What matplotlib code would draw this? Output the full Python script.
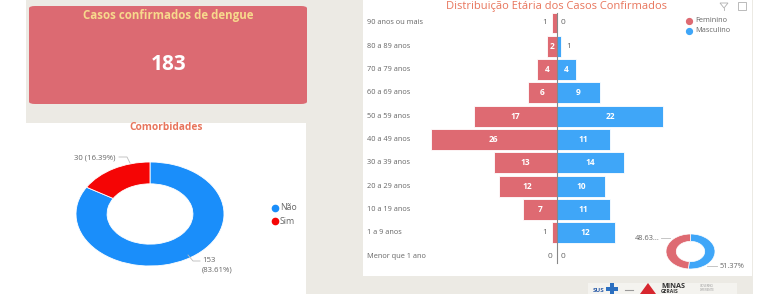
import matplotlib
matplotlib.use("Agg")
import matplotlib.pyplot as plt
from matplotlib.patches import FancyBboxPatch, Rectangle, Polygon
from matplotlib.lines import Line2D
import matplotlib.transforms as mtransforms

plt.rcParams['font.family'] = ['Open Sans', 'DejaVu Sans']

# ---- data ----
total_cases = 183
comorb_labels = ["Não", "Sim"]
comorb_values = [153, 30]
age_groups = ["90 anos ou mais", "80 a 89 anos", "70 a 79 anos", "60 a 69 anos",
              "50 a 59 anos", "40 a 49 anos", "30 a 39 anos", "20 a 29 anos",
              "10 a 19 anos", "1 a 9 anos", "Menor que 1 ano"]
feminino = [1, 2, 4, 6, 17, 26, 13, 12, 7, 1, 0]
masculino = [0, 1, 4, 9, 22, 11, 14, 10, 11, 12, 0]
sex_labels = ["Feminino", "Masculino"]

W, H = 775, 294
fig = plt.figure(figsize=(W / 100, H / 100), dpi=100)
fig.patch.set_facecolor("white")

def fx(x):
    return x / W

def fy(y):
    return 1 - y / H

def px_axes(x, y, w, h):
    return fig.add_axes([fx(x), fy(y + h), w / W, h / H])

def ftext(x, y, s, **kw):
    fig.text(fx(x), fy(y), s, **kw)

def fline(xs, ys, color="#bbbbbb", lw=0.6):
    fig.add_artist(Line2D([fx(v) for v in xs], [fy(v) for v in ys], color=color, lw=lw))

def frect(x0, y0, x1, y1, **kw):
    fig.add_artist(Rectangle((fx(x0), fy(y1)), fx(x1) - fx(x0), fy(y0) - fy(y1),
                             transform=fig.transFigure, **kw))

BEIGE = "#ECEAE4"
RED_CARD = "#DC6A72"
FEM = "#DE6A72"
MASC = "#3FA6F8"
BLUE = "#1A8EFA"
RED = "#F50505"
TITLE = "#E8755C"
GRAY = "#666666"

# backgrounds
frect(26, 0, 753, 294, facecolor=BEIGE, edgecolor="none", zorder=0)
frect(26, 123, 306, 294, facecolor="white", edgecolor="none", zorder=0)
frect(363, 0, 752, 276, facecolor="white", edgecolor="none", zorder=0)

# ---- KPI card ----
card = FancyBboxPatch((fx(29), fy(104)), fx(307) - fx(29), fy(6) - fy(104),
                      boxstyle="round,pad=0,rounding_size=0.008",
                      transform=fig.transFigure, facecolor=RED_CARD, edgecolor="none", zorder=1)
fig.add_artist(card)
ftext(168, 16, "Casos confirmados de dengue", ha="center", va="center",
      fontsize=8.3, fontweight="bold", color="#F7D98C")
ftext(169, 64, str(total_cases), ha="center", va="center",
      fontsize=15, fontweight="bold", color="white")

# ---- Comorbidades donut ----
ftext(166, 128, "Comorbidades", ha="center", va="center",
      fontsize=7.3, fontweight="bold", color=TITLE)
axd = px_axes(76, 162, 148, 104)
axd.pie(comorb_values, colors=[BLUE, RED], startangle=90, counterclock=False,
        wedgeprops=dict(width=0.42, edgecolor="white", linewidth=0.6))
axd.set_aspect("auto")
axd.set_xlim(-1, 1)
axd.set_ylim(-1, 1)
axd.axis("off")
pct = [v / sum(comorb_values) * 100 for v in comorb_values]
ftext(74, 158, f"{comorb_values[1]} ({pct[1]:.2f}%)", ha="left", va="center", fontsize=5.6, color=GRAY)
fline([119, 127, 130], [157, 157, 163])
ftext(202, 261, f"{comorb_values[0]}", ha="left", va="center", fontsize=5.6, color=GRAY)
ftext(202, 270, f"({pct[0]:.2f}%)", ha="left", va="center", fontsize=5.6, color=GRAY)
fline([188, 193, 200], [255, 261, 261])
for i, (lab, col) in enumerate(zip(comorb_labels, [BLUE, RED])):
    yy = 208 + i * 13
    fig.add_artist(Line2D([fx(275)], [fy(yy)], marker="o", markersize=4.5, color=col, lw=0))
    ftext(280, yy, lab, ha="left", va="center", fontsize=6.3, color=GRAY)

# ---- Butterfly chart ----
ftext(557, 6, "Distribuição Etária dos Casos Confirmados", ha="center", va="center",
      fontsize=8, color=TITLE)
# filter icon
fig.add_artist(Polygon([(fx(720), fy(3)), (fx(728), fy(3)), (fx(724), fy(8))], closed=True,
                       transform=fig.transFigure, facecolor="none", edgecolor="#b0b0b0", lw=0.6))
fline([724, 724], [8, 10], color="#b0b0b0", lw=0.6)
# expand icon
frect(738, 2, 746, 10, facecolor="none", edgecolor="#b0b0b0", lw=0.6)

axb = px_axes(363, 11.35, 389, 256.3)
axb.set_xlim(-40.0, 40.35)
axb.set_ylim(10.5, -0.5)
axb.axis("off")
ypos = list(range(len(age_groups)))
negf = [-v for v in feminino]
axb.barh(ypos, negf, height=0.9, color=FEM, edgecolor="white", linewidth=0.6)
axb.barh(ypos, masculino, height=0.9, color=MASC, edgecolor="white", linewidth=0.6)
axb.plot([0, 0], [-0.43, 10.3], color="#888888", lw=0.8)
trans = mtransforms.blended_transform_factory(axb.transAxes, axb.transData)
for y, lab in zip(ypos, age_groups):
    axb.text(0.0105, y, lab, transform=trans, ha="left", va="center", fontsize=5.3, color=GRAY)
for y, f, m in zip(ypos, feminino, masculino):
    if f >= 2:
        axb.text(-f / 2, y, str(f), ha="center", va="center", fontsize=6, color="white",
                 fontweight="bold")
    else:
        axb.text(-f - 0.9, y, str(f), ha="right", va="center", fontsize=6, color=GRAY)
    if m >= 2:
        axb.text(m / 2, y, str(m), ha="center", va="center", fontsize=6, color="white",
                 fontweight="bold")
    else:
        axb.text(m + 0.9, y, str(m), ha="left", va="center", fontsize=6, color=GRAY)

for i, (lab, col) in enumerate(zip(sex_labels, [FEM, MASC])):
    yy = 21 + i * 10
    fig.add_artist(Line2D([fx(689)], [fy(yy)], marker="o", markersize=4.2, color=col, lw=0))
    ftext(695, yy, lab, ha="left", va="center", fontsize=5.3, color=GRAY)

# small sex donut
sex_totals = [sum(feminino), sum(masculino)]
axs = px_axes(666, 234, 49, 35)
axs.pie(sex_totals[::-1], colors=[MASC, FEM], startangle=90, counterclock=False,
        wedgeprops=dict(width=0.42, edgecolor="white", linewidth=0.5))
axs.set_aspect("auto")
axs.set_xlim(-1, 1)
axs.set_ylim(-1, 1)
axs.axis("off")
spct = [v / sum(sex_totals) * 100 for v in sex_totals]
ftext(635, 238, f"{spct[0]:.2f}"[:5] + "...", ha="left", va="center", fontsize=5.3, color=GRAY)
fline([661, 670], [238, 238])
ftext(720, 267, f"{spct[1]:.2f}%", ha="left", va="center", fontsize=5.3, color=GRAY)
fline([707, 717], [266, 266])

# ---- footer logos ----
frect(588, 283, 737, 294, facecolor="#F4F3EF", edgecolor="none", zorder=0.5)
ftext(593, 290, "SUS", ha="left", va="center", fontsize=4.5, fontweight="bold", color="#2B5BA8")
frect(606, 287, 618, 291, facecolor="#2B6FC0", edgecolor="none")
frect(610, 283, 614, 294, facecolor="#2B6FC0", edgecolor="none")
fline([625, 633], [290, 290], color="#999999", lw=0.8)
fig.add_artist(Polygon([(fx(640), fy(294)), (fx(648), fy(283)), (fx(656), fy(294))],
                       closed=True, transform=fig.transFigure, facecolor="#D7262E",
                       edgecolor="none"))
ftext(661, 286.5, "MINAS", ha="left", va="center", fontsize=5.2, fontweight="bold", color="#333333")
ftext(661, 291.5, "GERAIS", ha="left", va="center", fontsize=3.6, fontweight="bold", color="#333333")
ftext(700, 288, "GOVERNO\nDIFERENTE", ha="left", va="center", fontsize=2.2, color="#999999",
      linespacing=1.0)

fig.savefig("out.png", dpi=100, facecolor=fig.get_facecolor())
